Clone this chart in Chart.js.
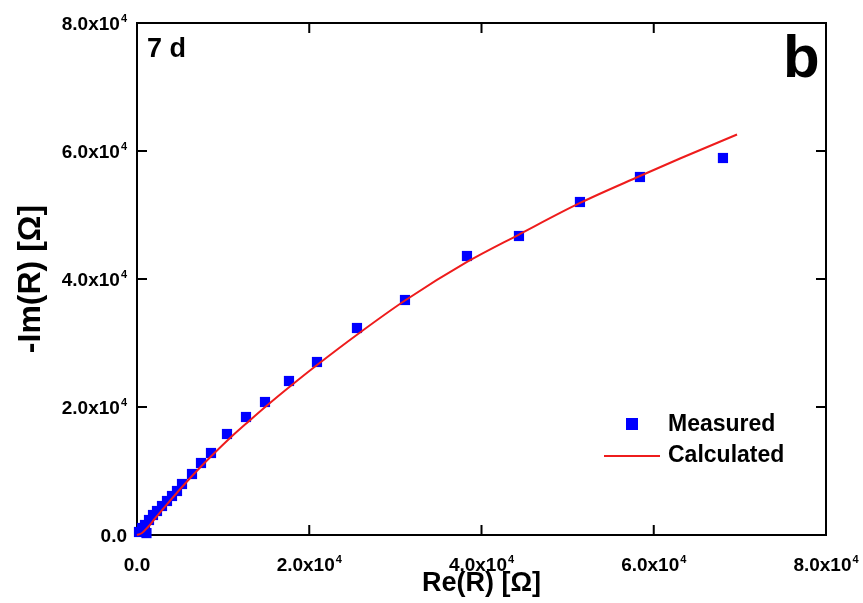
<!DOCTYPE html>
<html>
<head>
<meta charset="utf-8">
<title>Nyquist 7 d</title>
<script src="https://cdn.jsdelivr.net/npm/chart.js@4.4.1/dist/chart.umd.min.js"></script>
<style>
  html, body { margin: 0; padding: 0; background: #fff; }
  #wrap { width: 863px; height: 603px; }
</style>
</head>
<body>
<div id="wrap"><canvas id="nyquist" width="863" height="603"></canvas></div>
<script>
// Measured impedance (Re, -Im) in ohm
const measuredRe = [232, 581, 929, 1100, 1393, 1858, 2322, 2903, 3483, 4064, 4644, 5225, 6386, 7430,
  8591, 10449, 12655, 14861, 17647, 20898, 25542, 31115, 38313, 44350, 51432, 58398, 68035];
const measuredIm = [469, 1094, 1563, 300, 2344, 3125, 3750, 4531, 5313, 6094, 6875, 7969, 9531, 11250,
  12813, 15781, 18438, 20781, 24063, 27031, 32344, 36719, 43594, 46719, 52031, 55938, 58906];

// Fitted model curve
const calcRe = [0, 580, 1280, 2090, 3020, 4060, 5230, 6390, 7550, 8820, 10680, 12890, 15090,
  17760, 20900, 25660, 31120, 38320, 44350, 51440, 58400, 63050, 69670];
const calcIm = [0, 310, 1250, 2580, 4060, 5700, 7500, 9220, 10860, 12580, 15000, 17660, 20230,
  23200, 26560, 31410, 36640, 42660, 46950, 51880, 56090, 58830, 62580];

// Axis ticks (same for both axes)
const tickValues = [0, 20000, 40000, 60000, 80000];

const FONT = '"Liberation Sans", Arial, sans-serif';
const toXY = (xs, ys) => xs.map((x, i) => ({ x: x, y: ys[i] }));

// "2.0x10" + superscript "4"
function tickParts(v) {
  if (v === 0) return ['0.0', ''];
  return [(v / 10000).toFixed(1) + 'x10', '4'];
}

function drawTick(ctx, v, x, y, align) {
  const [main, sup] = tickParts(v);
  ctx.font = 'bold 19px ' + FONT;
  const wMain = ctx.measureText(main).width;
  ctx.font = 'bold 11px ' + FONT;
  const wSup = sup ? ctx.measureText(sup).width + 1 : 0;
  const total = wMain + wSup;
  const left = align === 'center' ? x - total / 2 : x - total;
  const base = y + 6.7;
  ctx.textAlign = 'left';
  ctx.textBaseline = 'alphabetic';
  ctx.font = 'bold 19px ' + FONT;
  ctx.fillText(main, left, base);
  if (sup) {
    ctx.font = 'bold 11px ' + FONT;
    ctx.fillText(sup, left + wMain + 1, base - 8);
  }
}

// frame, inward ticks on all four sides, tick labels
const framePlugin = {
  id: 'frame',
  beforeDatasetsDraw(chart) {
    const { ctx, chartArea: a } = chart;
    const xs = chart.scales.x, ys = chart.scales.y;
    const len = 10;
    ctx.save();
    ctx.strokeStyle = '#000';
    ctx.lineWidth = 2;
    ctx.strokeRect(a.left, a.top, a.right - a.left, a.bottom - a.top);
    ctx.beginPath();
    tickValues.forEach(v => {
      const px = xs.getPixelForValue(v);
      ctx.moveTo(px, a.bottom); ctx.lineTo(px, a.bottom - len);
      ctx.moveTo(px, a.top); ctx.lineTo(px, a.top + len);
      const py = ys.getPixelForValue(v);
      ctx.moveTo(a.left, py); ctx.lineTo(a.left + len, py);
      ctx.moveTo(a.right, py); ctx.lineTo(a.right - len, py);
    });
    ctx.stroke();

    ctx.fillStyle = '#000';
    xs.ticks.forEach(t => drawTick(ctx, t.value, xs.getPixelForValue(t.value), a.bottom + 29, 'center'));
    ys.ticks.forEach(t => drawTick(ctx, t.value, a.left - 10, ys.getPixelForValue(t.value), 'right'));
    ctx.restore();
  }
};

// panel labels and legend inside the plot
const notesPlugin = {
  id: 'notes',
  afterDraw(chart) {
    const { ctx, chartArea: a } = chart;
    ctx.save();
    ctx.fillStyle = '#000';
    ctx.textBaseline = 'alphabetic';
    ctx.textAlign = 'left';
    ctx.font = 'bold 27px ' + FONT;
    ctx.fillText('7 d', a.left + 10, 57);
    ctx.font = 'bold 60px ' + FONT;
    ctx.fillText('b', a.right - 43, 77);

    // legend
    ctx.fillStyle = '#0000ff';
    ctx.fillRect(626, 418, 12, 12);
    ctx.strokeStyle = '#ee1c1c';
    ctx.lineWidth = 2;
    ctx.beginPath();
    ctx.moveTo(604, 456);
    ctx.lineTo(660, 456);
    ctx.stroke();
    ctx.fillStyle = '#000';
    ctx.font = 'bold 23px ' + FONT;
    ctx.textBaseline = 'middle';
    ctx.fillText('Measured', 668, 425);
    ctx.fillText('Calculated', 668, 456);
    ctx.restore();
  }
};

new Chart(document.getElementById('nyquist'), {
  type: 'scatter',
  data: {
    datasets: [
      {
        label: 'Measured',
        data: toXY(measuredRe, measuredIm),
        pointStyle: 'rect',
        pointRadius: 7.2,
        pointHoverRadius: 7.2,
        backgroundColor: '#0000ff',
        borderWidth: 0,
        showLine: false,
        clip: false,
        order: 2
      },
      {
        label: 'Calculated',
        data: toXY(calcRe, calcIm),
        showLine: true,
        pointRadius: 0,
        borderColor: '#ee1c1c',
        borderWidth: 2,
        cubicInterpolationMode: 'monotone',
        clip: false,
        order: 1
      }
    ]
  },
  options: {
    responsive: false,
    animation: false,
    layout: { padding: { left: 0, top: 23, right: 37, bottom: 0 } },
    plugins: {
      legend: { display: false },
      tooltip: { enabled: false }
    },
    scales: {
      x: {
        type: 'linear',
        min: 0,
        max: 80000,
        afterFit(scale) {
          scale.height = 68;
          scale.paddingLeft = 0;
          scale.paddingRight = 0;
        },
        afterBuildTicks(scale) { scale.ticks = tickValues.map(v => ({ value: v })); },
        grid: { display: false },
        border: { display: false },
        ticks: { display: false },
        title: {
          display: true,
          text: 'Re(R) [\u03A9]',
          color: '#000',
          padding: { top: 0, bottom: 3 },
          font: { family: FONT, size: 27, weight: 'bold' }
        }
      },
      y: {
        type: 'linear',
        min: 0,
        max: 80000,
        afterFit(scale) {
          scale.width = 137;
          scale.paddingTop = 0;
          scale.paddingBottom = 0;
        },
        afterBuildTicks(scale) { scale.ticks = tickValues.map(v => ({ value: v })); },
        grid: { display: false },
        border: { display: false },
        ticks: { display: false },
        title: {
          display: true,
          text: '-Im(R) [\u03A9]',
          color: '#000',
          padding: { top: 12, bottom: 0 },
          font: { family: FONT, size: 32, weight: 'bold' }
        }
      }
    }
  },
  plugins: [framePlugin, notesPlugin]
});
</script>
</body>
</html>
